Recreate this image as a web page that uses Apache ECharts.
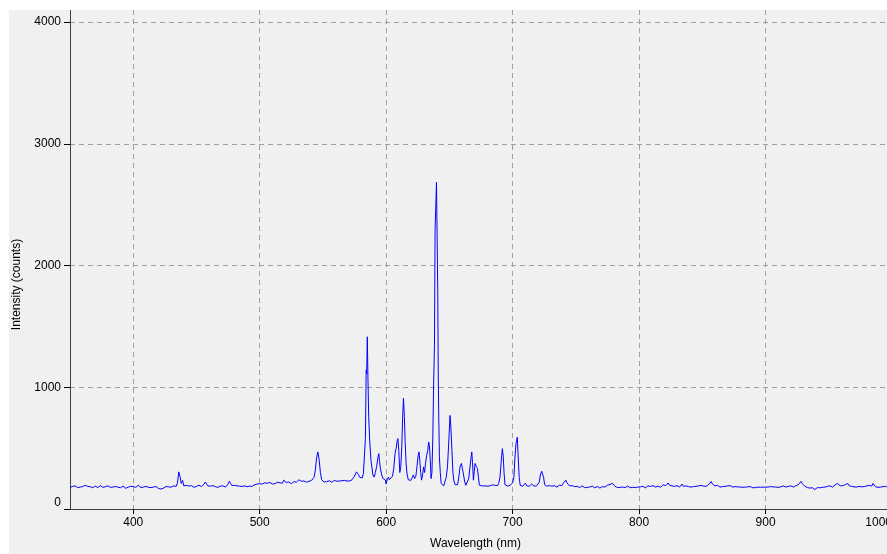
<!DOCTYPE html>
<html>
<head>
<meta charset="utf-8">
<script src="https://cdn.jsdelivr.net/npm/echarts@6/dist/echarts.min.js"></script>
<style>
  html, body { margin: 0; padding: 0; background: #ffffff; overflow: hidden; }
  #chart { position: absolute; left: 9px; top: 10px; width: 878px; height: 544px; }
</style>
</head>
<body>
<div id="chart"></div>
<script>
// spectrum: 1 nm steps on the flat parts, free steps around the lines
const blueStart = 350;
const blueCounts = [
  178, 172, 185, 176, 190, 182, 175, 188, 180, 192,
  184, 176, 195, 180, 186, 178, 183, 190, 175, 182,
  188, 180, 176, 185, 192, 181, 178, 186, 183, 176,
  190, 182, 178, 187, 180, 176, 185, 192, 179, 184,
  175, 182, 188, 178, 170, 184, 180, 176, 186, 180,
  185, 190, 178, 183, 195, 181, 176, 188, 180, 174,
  186, 182, 178, 190, 176, 184, 180, 172, 185, 178,
  168, 176, 164, 180, 172, 178, 185, 176, 182, 188,
  180, 184, 190, 182, 186, 215, 305, 265, 210, 235,
  190, 186, 195, 182, 188, 180, 192, 185, 178, 190,
  186, 182, 195, 190, 184, 200, 205, 222, 210, 190,
  185, 188, 180, 192, 186, 183, 190, 178, 185, 188,
  182, 190, 186, 180, 195, 205, 228, 210, 192, 188,
  195, 186, 190, 183, 188, 192, 185, 180, 190, 186,
  183, 190, 188, 195, 186, 190, 200, 196, 205, 215,
  208, 212, 205, 210, 215, 206, 212, 208, 218, 210,
  205, 214, 208, 212, 220, 208, 215, 225, 212, 237,
  228, 218, 212, 222, 215, 208, 218, 225, 215, 220,
  228, 240, 245, 228, 222, 230, 225, 220, 232, 228,
  225, 235, 232, 260, 320, 420, 469, 406, 300, 240,
  228, 222, 230, 225, 218, 232, 226, 220, 228, 235,
  230, 228, 236, 230, 240, 232, 228, 235, 225, 230
];

const peakPoints = [
  [570, 225], [571, 230], [572, 222], [573, 240], [574, 250], [575, 270], [575.5, 280],
  [576.5, 305], [577.3, 315], [578, 285], [579, 262], [580, 268], [581, 255], [582, 290],
  [583, 300], [583.6, 580], [584.2, 1140], [584.6, 1110], [585.1, 1415], [585.6, 1080],
  [586.2, 760], [587, 560], [588, 400], [588.7, 345], [589.5, 280], [590.5, 262],
  [591.5, 300], [592.5, 350], [593.3, 410], [594.2, 455], [594.8, 390], [595.5, 330],
  [596.5, 280], [597.5, 251], [598.5, 262], [599.3, 240], [600, 205], [600.8, 240],
  [601.8, 262], [602.5, 240], [603.3, 250], [604, 248], [605, 270], [606, 330],
  [607, 455], [607.9, 500], [608.7, 560], [609.3, 578], [610, 480], [610.8, 300],
  [611.6, 350], [612.4, 520], [613, 744], [613.7, 910], [614.4, 760], [615, 560],
  [615.8, 370], [616.5, 290], [617.5, 240], [618.5, 250], [619.5, 235], [620.5, 255],
  [621.5, 280], [622.5, 250], [623.5, 270], [624.5, 360], [625.3, 440], [626, 469],
  [626.6, 400], [627.3, 300], [628, 237], [628.8, 280], [629.6, 346], [630.4, 300],
  [631.2, 380], [632, 440], [632.9, 482], [633.6, 550], [634.2, 520], [634.9, 400],
  [635.5, 250], [636.2, 300], [636.9, 591], [637.5, 1000], [638.2, 1341], [638.7, 2297],
  [639.3, 2300], [639.8, 2685], [640.3, 2685], [640.8, 1790], [641.2, 1100], [641.6, 755],
  [642.1, 428], [642.8, 300], [643.5, 210], [644.3, 196], [645.5, 190], [646.5, 200],
  [647.5, 260], [648.5, 346], [649.5, 550], [650.5, 769], [651.2, 673], [652, 482],
  [652.8, 300], [653.5, 237], [654.5, 200], [655.6, 190], [656.5, 200], [657.5, 264],
  [658.4, 346], [659.5, 374], [660.3, 330], [661, 294], [662, 230], [663, 195],
  [664.3, 188], [665.3, 250], [666.3, 346], [667.1, 420], [667.7, 469], [668.3, 380],
  [669, 237], [669.7, 310], [670.3, 374], [671.3, 350], [672.2, 333], [673, 260],
  [673.7, 196], [675, 188], [676, 190], [677, 185], [678, 190], [679, 192], [680, 188],
  [681, 200], [682, 190], [683, 186], [684, 198], [685, 188], [686, 195], [687, 200],
  [688, 192], [689, 210], [690, 260], [691.2, 420], [691.9, 496], [692.6, 430],
  [693.2, 300], [694, 200], [695, 190], [696, 188], [697, 187], [698, 195], [699, 200],
  [700, 215], [701, 260], [701.8, 420], [702.7, 537], [703.7, 591], [704.4, 428],
  [705.2, 260], [706, 195], [707, 188], [708, 187], [709, 200], [710, 212], [711, 192],
  [712, 188], [713, 186], [714, 190], [715, 205], [716, 195], [717, 188], [718, 186],
  [719, 190], [720, 200], [721, 220], [722, 280], [723, 310], [723.8, 325], [724.5, 260],
  [725.3, 200], [726, 190], [727, 188], [728, 186], [729, 192], [730, 190]
];

const redStart = 731;
const redCounts = [
  188, 184, 192, 186, 180, 190, 196, 205, 192, 210,
  225, 237, 215, 200, 190, 186, 192, 180, 184, 178,
  186, 182, 176, 184, 190, 180, 175, 183, 178, 186,
  180, 176, 188, 182, 174, 180, 185, 178, 172, 180,
  184, 190, 180, 186, 196, 182, 200, 188, 211, 198,
  186, 180, 176, 184, 178, 172, 180, 186, 176, 182,
  188, 180, 175, 182, 178, 170, 176, 184, 180, 175,
  182, 178, 186, 180, 174, 183, 190, 178, 185, 180,
  192, 186, 180, 196, 188, 182, 178, 190, 200, 186,
  192, 188, 214, 196, 184, 190, 178, 186, 200, 192,
  184, 180, 196, 205, 186, 182, 190, 178, 184, 186,
  180, 176, 184, 178, 186, 180, 190, 185, 194, 182,
  188, 196, 186, 192, 200, 210, 226, 205, 198, 190,
  186, 195, 188, 180, 192, 184, 178, 186, 182, 190,
  200, 192, 186, 180, 176, 184, 178, 182, 176, 180,
  184, 178, 185, 180, 176, 182, 178, 184, 180, 174,
  182, 176, 184, 180, 172, 178, 185, 180, 176, 180,
  186, 180, 176, 184, 178, 182, 188, 180, 184, 178,
  186, 182, 178, 190, 184, 180, 176, 186, 182, 190,
  186, 180, 184, 192, 186, 200, 212, 226, 208, 196,
  188, 182, 176, 180, 172, 168, 175, 165, 160, 170,
  176, 180, 174, 182, 178, 184, 180, 176, 186, 182,
  190, 186, 180, 194, 198, 205, 210, 196, 190, 186,
  192, 188, 200, 184, 210, 192, 180, 186, 176, 182,
  188, 180, 196, 186, 176, 182, 178, 184, 180, 190,
  186, 194, 200, 188, 210, 196, 182, 186, 178, 184,
  180, 176, 184, 178, 186, 180, 176, 182, 178, 180
];

const xMin = 350;
const xMax = 1000;
const yTicks = [0, 1000, 2000, 3000, 4000];
const yMax = 4100;

const spectrum = [];
blueCounts.forEach((c, i) => spectrum.push([blueStart + i, c]));
peakPoints.forEach((p) => spectrum.push(p));
redCounts.forEach((c, i) => spectrum.push([redStart + i, c]));

const font = { fontFamily: 'Liberation Sans, Arial, sans-serif', fontSize: 12, color: '#000' };
const plain = (v) => String(v);

const chart = echarts.init(document.getElementById('chart'));

chart.setOption({
  backgroundColor: '#f0f0f0',
  animation: false,
  grid: { left: 61, top: 0, width: 822, height: 499, outerBoundsMode: 'none', containLabel: false },
  xAxis: {
    type: 'value',
    min: xMin,
    max: xMax,
    splitNumber: 7,
    name: 'Wavelength (nm)',
    nameLocation: 'middle',
    nameGap: 29,
    nameTextStyle: { ...font, padding: [0, 11, 0, 0] },
    axisLine: { lineStyle: { color: '#404040', width: 1 } },
    axisTick: { length: 5, lineStyle: { color: '#000' } },
    axisLabel: { ...font, margin: 8, showMinLabel: false, alignMaxLabel: 'right', formatter: plain },
    splitLine: { show: true, showMinLine: false, lineStyle: { color: '#a0a0a0', type: [5, 4] } }
  },
  yAxis: {
    type: 'value',
    min: yTicks[0],
    max: yMax,
    interval: yTicks[1] - yTicks[0],
    name: 'Intensity (counts)',
    nameLocation: 'middle',
    nameGap: 47,
    nameTextStyle: { ...font, padding: [0, 50, 0, 0] },
    axisLine: { show: true, lineStyle: { color: '#404040', width: 1 } },
    axisTick: { show: true, length: 6, lineStyle: { color: '#000' } },
    axisLabel: {
      ...font,
      margin: 9,
      showMaxLabel: false,
      // the zero label sits a little above the axis in the original
      formatter: (v) => (v === 0 ? '{zero|0}' : String(v)),
      rich: { zero: { ...font, padding: [0, 0, 12, 0] } }
    },
    splitLine: { show: true, showMinLine: false, showMaxLine: false, lineStyle: { color: '#a0a0a0', type: [5, 4] } }
  },
  series: [
    {
      type: 'line',
      data: spectrum,
      symbol: 'none',
      silent: true,
      lineStyle: { color: '#0000ff', width: 1 }
    }
  ]
});
</script>
</body>
</html>
